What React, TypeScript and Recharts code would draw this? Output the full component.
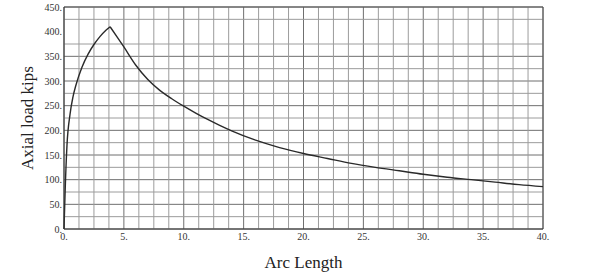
import React from 'react';
import { LineChart, Line, XAxis, YAxis, CartesianGrid, ReferenceLine } from 'recharts';

// arc length vs axial load
const arcLength = [0, 0.05, 0.1, 0.25, 0.5, 0.75, 1, 1.5, 2, 2.5, 3, 3.5, 3.85, 4.5, 5, 6, 7, 8, 9, 10, 11, 12, 13, 14, 16, 18, 20, 22, 24, 26, 28, 30, 32, 34, 36, 38, 40];
const axialLoad = [0, 40, 80, 170, 232, 268, 292, 328, 354, 374, 390, 403, 410, 387, 369, 332, 303, 281, 264, 249, 235, 222, 210, 199, 180, 165, 153, 143, 133, 125, 118, 111, 105, 100, 95, 90, 86];

const xTicks = [0, 5, 10, 15, 20, 25, 30, 35, 40];
const yTicks = [0, 50, 100, 150, 200, 250, 300, 350, 400, 450];

// the curve has a sharp peak, so draw the rising and falling parts as two pieces
const peak = axialLoad.indexOf(Math.max(...axialLoad));
const data = arcLength.map((x, i) => ({
  x,
  rise: i <= peak ? axialLoad[i] : null,
  fall: i >= peak ? axialLoad[i] : null,
}));

// minor grid between the labelled ticks
const minorX = Array.from({ length: 33 }, (_, i) => i * 1.25).filter((v) => v % 5 !== 0);
const minorY = Array.from({ length: 19 }, (_, i) => i * 25).filter((v) => v % 50 !== 0);

const fmt = (v: number) => `${v}.`;

const YLabel = () => (
  <text
    x={27}
    y={118}
    transform="rotate(-90, 27, 118)"
    textAnchor="middle"
    dominantBaseline="central"
    fontSize={17}
    fill="#222"
    fontFamily="'Liberation Serif', serif"
  >
    Axial load kips
  </text>
);

export default function App() {
  return (
    <div style={{ position: 'absolute', left: 0, top: 0, width: 589, height: 274, background: '#fff' }}>
      <LineChart width={589} height={274} data={data} margin={{ top: 7, right: 46, left: 0, bottom: 0 }}>
        <CartesianGrid stroke="#6f6f6f" strokeWidth={1} />
        {minorX.map((v) => (
          <ReferenceLine key={'mx' + v} x={v} stroke="#9c9c9c" strokeWidth={1} />
        ))}
        {minorY.map((v) => (
          <ReferenceLine key={'my' + v} y={v} stroke="#9c9c9c" strokeWidth={1} />
        ))}
        <ReferenceLine x={40} stroke="#555" />
        <ReferenceLine y={450} stroke="#555" />
        <XAxis
          dataKey="x"
          type="number"
          domain={[0, 40]}
          ticks={xTicks}
          tickFormatter={fmt}
          height={45}
          tickSize={0}
          tickMargin={4}
          stroke="#333"
          tick={{ fontSize: 10, fill: '#333', fontFamily: "'Liberation Serif', serif" }}
          label={{ value: 'Arc Length', position: 'insideBottom', offset: 6, fontSize: 17, fill: '#222', fontFamily: "'Liberation Serif', serif" }}
        />
        <YAxis
          type="number"
          domain={[0, 450]}
          ticks={yTicks}
          tickFormatter={fmt}
          width={64}
          tickSize={0}
          tickMargin={2}
          stroke="#333"
          tick={{ fontSize: 10, fill: '#333', fontFamily: "'Liberation Serif', serif" }}
          label={<YLabel />}
        />
        <Line dataKey="rise" type="monotone" stroke="#2a2a2a" strokeWidth={1.4} dot={false} isAnimationActive={false} />
        <Line dataKey="fall" type="monotone" stroke="#2a2a2a" strokeWidth={1.4} dot={false} isAnimationActive={false} />
      </LineChart>
    </div>
  );
}
